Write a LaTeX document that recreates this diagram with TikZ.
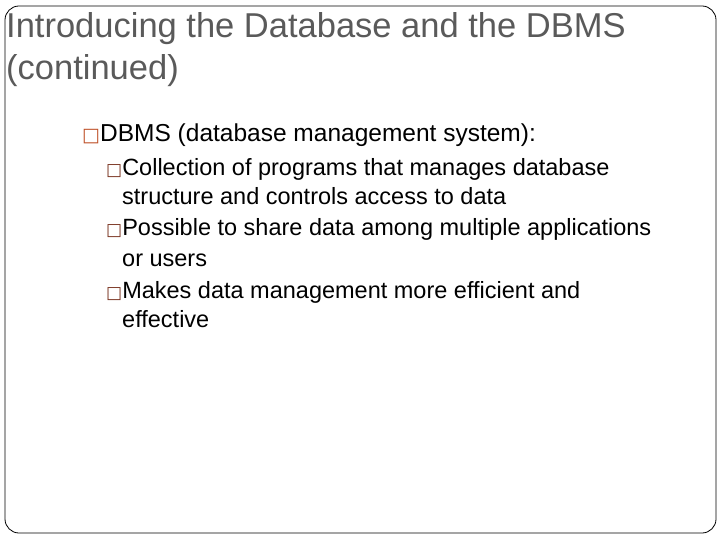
\documentclass[tikz,border=0pt]{standalone}
\usepackage{fontspec}
\setmainfont{Liberation Sans}
\newfontfamily\symfont{DejaVu Sans}
\definecolor{titlegray}{RGB}{90,90,90}
\definecolor{bulA}{RGB}{190,80,40}
\definecolor{bulB}{RGB}{120,50,30}
\newcommand{\bulA}{{\symfont\fontsize{19}{19}\selectfont\color{bulA}□}}
\newcommand{\bulB}{{\symfont\fontsize{17}{17}\selectfont\color{bulB}□}}
\begin{document}
\begin{tikzpicture}[x=1pt,y=-1pt,
  ttl/.style={anchor=base west,inner sep=0pt,text=titlegray,font=\fontsize{34.5}{34.5}\selectfont},
  lvone/.style={anchor=base west,inner sep=0pt,font=\fontsize{24.5}{24.5}\selectfont},
  lvtwo/.style={anchor=base west,inner sep=0pt,font=\fontsize{23.5}{23.5}\selectfont}]
\useasboundingbox (0,0) rectangle (720,540);
\draw[line width=0.8pt,rounded corners=14pt] (5,6) rectangle (716,533);
\node[ttl] (t1) at (6,38) {Introducing the Database and the DBMS};
\node[ttl] (t2) at (6,80) {(continued)};
\node[lvone] (b1) at (82,142) {\bulA DBMS (database management system):};
\node[lvtwo] (c1) at (106,176) {\bulB Collection of programs that manages database};
\node[lvtwo] (c1b) at (122,205) {structure and controls access to data};
\node[lvtwo] (c2) at (106,236) {\bulB Possible to share data among multiple applications};
\node[lvtwo] (c2b) at (122,266) {or users};
\node[lvtwo] (c3) at (106,298) {\bulB Makes data management more efficient and};
\node[lvtwo] (c3b) at (122,327) {effective};
\end{tikzpicture}
\end{document}
